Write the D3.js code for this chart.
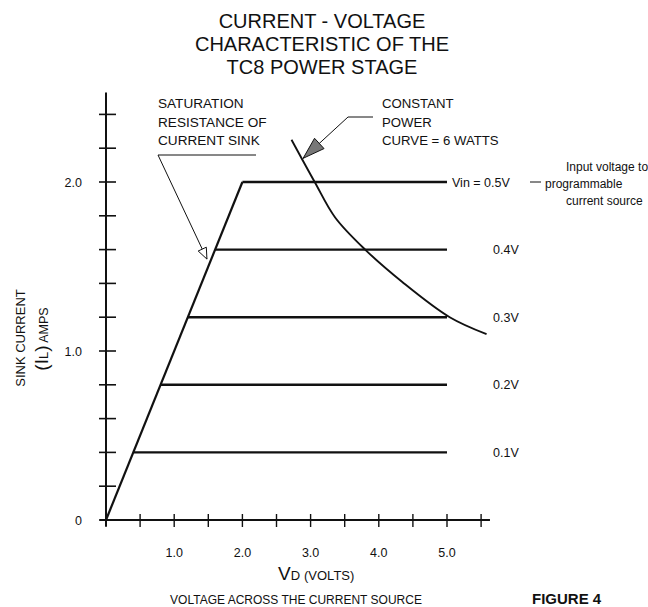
<!DOCTYPE html>
<html>
<head>
<meta charset="utf-8">
<script src="https://cdn.jsdelivr.net/npm/d3@7"></script>
<style>
  body { margin: 0; background: #fff; }
  svg text { font-family: "Liberation Sans", Arial, sans-serif; fill: #111; }
</style>
</head>
<body>
<div id="chart"></div>
<script>
// current levels (amps) set by each input voltage
const levelCurrents = [0.4, 0.8, 1.2, 1.6, 2.0];
const levelLabels = ['0.1V', '0.2V', '0.3V', '0.4V', 'Vin = 0.5V'];
const levelEndVolts = 5.0;

// saturation resistance line (V, A)
const satVolts = [0, 2.0];
const satAmps = [0, 2.0];

// constant power curve
const powerVolts = [2.72, 3.06, 3.36, 3.80, 4.34, 5.04, 5.58];
const powerAmps = [2.25, 2.00, 1.79, 1.60, 1.41, 1.20, 1.10];

// axes
const xTicks = [0.5, 1.0, 1.5, 2.0, 2.5, 3.0, 3.5, 4.0, 4.5, 5.0, 5.5];
const xTickLabels = ['1.0', '2.0', '3.0', '4.0', '5.0'];
const yTicks = [0.2, 0.4, 0.6, 0.8, 1.0, 1.2, 1.4, 1.6, 1.8, 2.0, 2.2, 2.4];
const yTickLabels = ['0', '1.0', '2.0'];

const titleLines = ['CURRENT - VOLTAGE', 'CHARACTERISTIC OF THE', 'TC8 POWER STAGE'];

const width = 648, height = 607;

const x = d3.scaleLinear().domain([0, 5]).range([106, 447]);
const y = d3.scaleLinear().domain([0, 2]).range([520, 182]);

const svg = d3.select('#chart').append('svg')
    .attr('width', width)
    .attr('height', height);

// title
svg.append('g')
    .selectAll('text')
    .data(titleLines)
    .join('text')
    .attr('x', 322)
    .attr('y', (d, i) => 28 + i * 23)
    .attr('text-anchor', 'middle')
    .style('font-size', '20px')
    .text(d => d);

// axis lines
svg.append('line')
    .attr('x1', x(0)).attr('x2', x(0))
    .attr('y1', y(-0.04)).attr('y2', y(2.53))
    .attr('stroke', '#111').attr('stroke-width', 2);
svg.append('line')
    .attr('x1', x(-0.1)).attr('x2', x(5.63))
    .attr('y1', y(0)).attr('y2', y(0))
    .attr('stroke', '#111').attr('stroke-width', 2);

// ticks crossing the axes
svg.append('g')
    .selectAll('line')
    .data(yTicks)
    .join('line')
    .attr('x1', x(0) - 7).attr('x2', x(0) + 10)
    .attr('y1', d => y(d)).attr('y2', d => y(d))
    .attr('stroke', '#111').attr('stroke-width', 1.6);
svg.append('g')
    .selectAll('line')
    .data(xTicks)
    .join('line')
    .attr('x1', d => x(d)).attr('x2', d => x(d))
    .attr('y1', y(0) - 6).attr('y2', y(0) + 7)
    .attr('stroke', '#111').attr('stroke-width', 1.4);

// tick labels
svg.append('g')
    .selectAll('text')
    .data(yTickLabels)
    .join('text')
    .attr('x', 82)
    .attr('y', d => y(+d) + 4.5)
    .attr('text-anchor', 'end')
    .style('font-size', '12.5px')
    .text(d => d);
svg.append('g')
    .selectAll('text')
    .data(xTickLabels)
    .join('text')
    .attr('x', d => x(+d))
    .attr('y', 557)
    .attr('text-anchor', 'middle')
    .style('font-size', '12.5px')
    .text(d => d);

// saturation line
const line = d3.line().x(d => x(d[0])).y(d => y(d[1]));
svg.append('path')
    .attr('d', line(d3.zip(satVolts, satAmps)))
    .attr('fill', 'none')
    .attr('stroke', '#111')
    .attr('stroke-width', 2.2);

// constant current levels, each starting on the saturation line
const satSlope = satVolts[1] / satAmps[1];
svg.append('g')
    .selectAll('line')
    .data(levelCurrents)
    .join('line')
    .attr('x1', d => x(d * satSlope))
    .attr('x2', x(levelEndVolts))
    .attr('y1', d => y(d)).attr('y2', d => y(d))
    .attr('stroke', '#111')
    .attr('stroke-width', 2.4);

svg.append('g')
    .selectAll('text')
    .data(d3.zip(levelCurrents, levelLabels))
    .join('text')
    .attr('x', d => d[1].startsWith('Vin') ? x(levelEndVolts) + 5 : 493)
    .attr('y', d => y(d[0]) + 4.5)
    .style('font-size', '12.5px')
    .text(d => d[1]);

// constant power curve
svg.append('path')
    .attr('d', d3.line().x(d => x(d[0])).y(d => y(d[1])).curve(d3.curveCatmullRom)(d3.zip(powerVolts, powerAmps)))
    .attr('fill', 'none')
    .attr('stroke', '#111')
    .attr('stroke-width', 1.9);

// arrow head helper
function arrowHead(tip, from, len, half, fill) {
    let dx = tip[0] - from[0], dy = tip[1] - from[1];
    let n = Math.hypot(dx, dy);
    dx /= n; dy /= n;
    let bx = tip[0] - dx * len, by = tip[1] - dy * len;
    let pts = [tip, [bx - dy * half, by + dx * half], [bx + dy * half, by - dx * half]];
    svg.append('path')
        .attr('d', 'M' + pts.map(p => p.join(',')).join('L') + 'Z')
        .attr('fill', fill)
        .attr('stroke', '#111')
        .attr('stroke-width', 1);
}

// saturation annotation
const satNote = ['SATURATION', 'RESISTANCE OF', 'CURRENT SINK'];
svg.append('g')
    .selectAll('text')
    .data(satNote)
    .join('text')
    .attr('x', 158)
    .attr('y', (d, i) => 108 + i * 18.5)
    .style('font-size', '13.6px')
    .text(d => d);
const satTip = [x(1.48), y(1.544)];
svg.append('polyline')
    .attr('points', [[256, 155], [158, 155], satTip].map(p => p.join(',')).join(' '))
    .attr('fill', 'none')
    .attr('stroke', '#111')
    .attr('stroke-width', 1);
arrowHead(satTip, [158, 155], 11, 4.5, '#fff');

// constant power annotation
const powerNote = ['CONSTANT', 'POWER', 'CURVE = 6 WATTS'];
svg.append('g')
    .selectAll('text')
    .data(powerNote)
    .join('text')
    .attr('x', 382)
    .attr('y', (d, i) => 108 + i * 18.5)
    .style('font-size', '13.2px')
    .text(d => d);
const powerTip = [x(2.89), y(2.14)];
svg.append('polyline')
    .attr('points', [[373, 117], [348, 117], powerTip].map(p => p.join(',')).join(' '))
    .attr('fill', 'none')
    .attr('stroke', '#111')
    .attr('stroke-width', 1);
arrowHead(powerTip, [348, 117], 22, 7, '#777');

// input voltage note
svg.append('line')
    .attr('x1', 530).attr('x2', 541)
    .attr('y1', y(2.0)).attr('y2', y(2.0))
    .attr('stroke', '#111').attr('stroke-width', 1);
const inputNote = [['Input voltage to', 566, 171], ['programmable', 545, 188], ['current source', 566, 205]];
svg.append('g')
    .selectAll('text')
    .data(inputNote)
    .join('text')
    .attr('x', d => d[1])
    .attr('y', d => d[2])
    .style('font-size', '12px')
    .text(d => d[0]);

// y axis title
svg.append('text')
    .attr('transform', 'translate(25,338) rotate(-90)')
    .attr('text-anchor', 'middle')
    .style('font-size', '13px')
    .text('SINK CURRENT');
const yLab = svg.append('text')
    .attr('transform', 'translate(48,339) rotate(-90)')
    .attr('text-anchor', 'middle');
yLab.append('tspan').style('font-size', '19px').text('(I');
yLab.append('tspan').style('font-size', '13px').text('L');
yLab.append('tspan').style('font-size', '19px').text(')');
yLab.append('tspan').style('font-size', '12.5px').text(' AMPS');

// x axis title
const xLab = svg.append('text').attr('x', 278).attr('y', 580);
xLab.append('tspan').style('font-size', '19px').text('V');
xLab.append('tspan').style('font-size', '13px').text('D');
xLab.append('tspan').attr('x', 304).style('font-size', '13px').text('(VOLTS)');

svg.append('text')
    .attr('x', 296)
    .attr('y', 604)
    .attr('text-anchor', 'middle')
    .style('font-size', '12px')
    .text('VOLTAGE ACROSS THE CURRENT SOURCE');

svg.append('text')
    .attr('x', 532)
    .attr('y', 604)
    .style('font-size', '15px')
    .style('font-weight', 'bold')
    .text('FIGURE 4');
</script>
</body>
</html>
